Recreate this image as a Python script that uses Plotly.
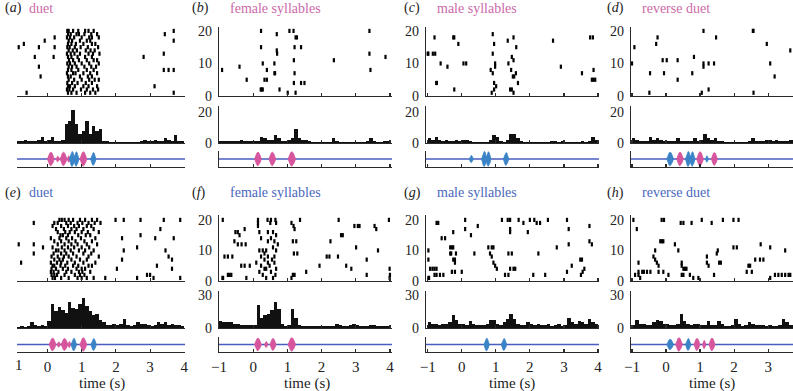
import plotly.graph_objects as go

W, H = 793, 391

# ---------------- data ----------------
bin_left = -1.0
bin_width = 0.1

# raster data: index 0 = trial 1 (bottom) ... index 19 = trial 20 (top)
raster_a = [
    [-0.61, 0.6, 0.7, 0.85, 1.1, 1.25, 1.4, 3.69],
    [0.57, 0.64, 0.75, 0.98, 1.15, 1.33, 1.48],
    [0.6, 0.66, 0.8, 1.05, 1.2, 1.45, 3.13],
    [0.58, 0.72, 0.88, 1.12, 1.3],
    [0.62, 0.78, 1.0, 1.22, 1.38, 1.5],
    [-0.2, 0.6, 0.68, 0.95, 1.18, 1.3],
    [0.57, 0.75, 0.82, 1.05, 1.25, 1.45],
    [0.6, 0.7, 0.9, 1.15, 1.35, 3.4, 3.54, 3.69],
    [-0.25, 0.62, 0.72, 0.85, 1.08, 1.28, 1.42],
    [0.58, 0.66, 0.8, 1.0, 1.22, 1.5],
    [0.63, 0.75, 0.92, 1.15, 1.35, 1.45],
    [-0.37, 0.18, 0.6, 0.7, 0.88, 1.1, 1.3, 2.81],
    [0.57, 0.68, 0.79, 0.95, 1.2, 1.33, 1.52, 3.4],
    [0.62, 0.74, 0.86, 1.12, 1.26, 1.38],
    [-0.84, -0.25, 0.21, 0.58, 0.65, 0.8, 0.97, 1.18, 1.48],
    [-0.69, 0.6, 0.7, 0.83, 1.05, 1.3, 1.4],
    [-0.08, 0.62, 0.72, 0.95, 1.15, 1.25, 3.69],
    [0.21, 0.57, 0.66, 0.78, 1.0, 1.22, 1.3, 1.5],
    [0.6, 0.68, 0.85, 0.92, 1.08, 1.28, 1.45, 3.43],
    [0.58, 0.62, 0.75, 0.9, 1.1, 1.2, 1.35, 3.69],
]
raster_b = [
    [1.01, 1.24], [0.22, 0.25, 0.28, 0.77], [], [1.19, 1.4, 1.5],
    [-0.19, 0.33, 0.4], [], [0.62, 0.64, 1.21], [-0.91, 0.4, 3.43],
    [-0.4], [0.28, 0.62], [1.19, 2.36], [3.87], [0.7, 3.4], [0.69],
    [0.23, 1.21, 1.4], [], [], [1.24, 1.28], [0.69], [0.23, 1.06, 1.18, 3.4],
]
raster_c = [
    [0.88, 1.52], [-0.22, 0.95, 1.42, 1.47], [1.01], [-0.75, -0.73, 0.95, 1.65],
    [3.82, 3.87, 3.92], [1.5, 1.54], [0.91, 1.59, 3.53], [0.85, 1.45, 3.87],
    [-0.42, 0.98, 2.91], [-0.62, 0.05, 0.13, 0.98, 1.37], [1.52], [1.47],
    [-1.0, -0.98, -0.85, -0.78, 0.91], [], [1.6], [-0.1, 0.95], [1.35, 2.68],
    [-0.8, -0.25, -0.22, 1.52, 3.77, 3.85], [0.91], [],
]
raster_d = [
    [-0.49, 1.05, 2.57], [1.25], [], [], [0.34], [3.19], [-0.47, -0.06, 0.77],
    [], [1.1], [-1.0, 1.1, 1.25, 1.41, 3.06], [-0.1, 0.02, 0.34], [0.82], [],
    [3.65], [-0.93], [-0.29, 2.96], [], [-0.25, 1.47], [], [1.1, 2.55, 2.57],
]
raster_e = [
    [0.15, 0.22, 0.4, 0.62, 0.88, 1.0, 1.15, 1.35, 1.69, 2.62, 3.1, 3.88],
    [0.12, 0.2, 0.28, 0.5, 0.8, 0.95, 1.08, 2.91, 3.0],
    [0.1, 0.18, 0.32, 0.55, 0.7, 0.92, 1.02, 1.25],
    [0.12, 0.25, 0.45, 0.6, 0.85, 1.0, 1.1, 2.03, 3.64],
    [0.15, 0.2, 0.38, 0.52, 0.75, 0.9, 1.2, 1.3, 3.2],
    [-0.77, 0.1, 0.28, 0.4, 0.58, 0.8, 1.05, 1.4],
    [0.2, 0.35, 0.45, 0.7, 0.95, 1.15, 2.18, 3.64],
    [0.12, 0.3, 0.48, 0.62, 0.85, 1.2, 1.5, 3.54],
    [-0.4, 0.18, 0.4, 0.55, 0.75, 1.05, 1.28],
    [0.25, 0.32, 0.5, 0.68, 0.92, 1.1, 1.35, 2.23, 3.45],
    [-0.13, 0.15, 0.42, 0.6, 0.78, 1.0, 1.22, 2.62],
    [-0.84, -0.4, 0.3, 0.5, 0.7, 0.88, 1.15, 1.45],
    [0.2, 0.4, 0.62, 0.82, 1.08, 1.3],
    [0.1, 0.35, 0.55, 0.72, 0.98, 1.4, 2.18, 3.15, 3.69],
    [0.38, 0.45, 0.6, 0.9, 1.12, 1.25, 2.72],
    [0.3, 0.52, 0.65, 0.8, 1.0, 1.18, 1.5],
    [0.25, 0.48, 0.7, 0.85, 1.05, 1.35, 3.3],
    [0.15, 0.4, 0.6, 0.78, 0.92, 1.15, 1.28],
    [-0.4, 0.2, 0.3, 0.55, 0.68, 0.88, 1.02, 1.2, 1.38, 1.55],
    [0.35, 0.42, 0.5, 0.62, 0.75, 0.95, 1.1, 1.3, 1.45, 1.99, 2.23, 2.72, 3.4, 3.88],
]
raster_f = [
    [-0.9, -0.88, -0.2, 0.38, 0.58, 1.12, 3.99],
    [-0.74, -0.69, -0.64, 0.28, 0.65, 1.16, 1.21, 3.32, 4.0],
    [0.18, 0.52, 1.55],
    [0.33, 0.38, 0.67, 2.87, 3.99],
    [-0.35, -0.25, -0.1, 0.23, 0.48, 1.94, 2.72],
    [0.09, 0.43, 0.62],
    [0.33, 0.55, 3.32],
    [-0.84, -0.74, -0.61, 0.23, 0.43, 0.62, 2.15, 2.23, 2.48],
    [0.33, 1.19, 1.29],
    [0.18, 0.28, 0.38, 0.67, 3.65],
    [0.58, 3.01],
    [-0.45, -0.34, -0.22, 0.72],
    [-0.55, 0.43, 0.62, 1.16, 1.26, 2.26],
    [0.23, 0.52],
    [-0.4, 0.67, 2.57, 2.62],
    [-0.52, -0.45, 0.18, 0.43, 0.58],
    [-0.25, 1.21, 3.6],
    [0.14, 1.18, 2.96, 3.06, 3.11, 3.55],
    [0.14, 0.5, 0.67, 1.12],
    [-0.89, 0.14, 0.42, 0.52, 0.65, 1.37, 2.5, 3.97],
]
raster_g = [
    [-0.98, -0.96],
    [-0.8, -0.74, -0.64, -0.54, 1.27, 1.37, 2.1, 2.45, 3.5],
    [-0.29, -0.2, 0.0, 3.09, 3.55],
    [-0.93, -0.86, -0.8, -0.74, 1.03, 1.42, 1.52, 1.57, 3.6],
    [0.98, 3.23],
    [-0.2, 0.93],
    [-0.98, -0.25, -0.2, 3.48, 3.53],
    [0.88],
    [-0.34, -0.31, -0.17, 0.37, 0.83, 1.37, 1.47, 2.25],
    [-0.98],
    [-0.34, -0.29, -0.25, 0.78, 0.88, 0.93, 2.79],
    [3.14, 3.82],
    [3.75],
    [-0.59, -0.49],
    [0.27],
    [-0.25, 1.42, 1.94],
    [0.1, 1.42, 3.14],
    [0.47, 3.75],
    [-0.74, -0.69, 1.81, 2.2, 2.3],
    [0.1, 1.18, 1.35, 1.42, 1.67, 2.0, 2.13, 2.53, 3.09],
]
raster_h = [
    [-0.76, 0.8, 0.95, 3.06],
    [-0.91, -0.81, 0.07, 0.46, 0.51, 0.7, 1.41, 3.2, 3.3, 3.4, 3.5, 3.6, 3.65],
    [-0.81, -0.7, -0.65, -0.56, -0.46, -0.22, -0.08, 2.37, 2.52],
    [0.51, 0.56, 0.6],
    [-0.22, 0.46, 1.25, 2.42, 2.47],
    [-0.81, -0.27, 0.46, 1.2, 1.56, 1.61],
    [-0.32, 2.62, 2.76, 2.86],
    [-0.37, 1.2],
    [1.49],
    [-0.32, 0.36, 1.52, 3.5],
    [1.98, 2.08, 3.06],
    [0.26, 2.78],
    [-0.17, -0.12, -0.08],
    [], [], [],
    [-0.86],
    [],
    [0.43, 0.51, 0.75, 1.34],
    [-0.96, -0.13, -0.06, 1.05, 1.67, 1.98, 2.13],
]

# PSTH values, 0.1 s bins from -1 s to 4 s
hist_a = [1, 1, 1, 2, 1, 1, 1, 2, 4, 1, 2, 4, 1, 1, 2, 12, 14, 21, 12, 6,
          8, 14, 6, 11, 8, 9, 1, 1, 0.5, 0.5, 0.5, 0.5, 0.5, 0.5, 0.5, 0.5, 0.5, 1, 2, 1,
          1, 2, 1, 1, 3, 2, 1, 5, 1, 1]
hist_b = [1, 1, 1, 1, 1, 1, 2, 1, 1, 1, 1, 1, 4, 3, 2, 2, 5, 3, 1, 1,
          2, 3, 9, 3, 2, 2, 1, 0.5, 0.5, 0.5, 0.5, 0.5, 0.5, 3, 1, 0.5, 0.5, 0.5, 0.5, 0.5,
          0.5, 0.5, 0.5, 1, 3, 1, 0.5, 0.5, 1, 1]
hist_c = [3, 2, 4, 2, 1, 2, 1, 1, 2, 1, 2, 2, 1, 0.5, 0.5, 0.5, 0.5, 0.5, 2, 5,
          4, 1, 0.5, 2, 6, 6, 3, 1, 0.5, 0.5, 0.5, 0.5, 0.5, 0.5, 0.5, 0.5, 1, 1, 0.5, 1,
          0.5, 0.5, 0.5, 0.5, 0.5, 1, 0.5, 1, 4, 2]
hist_d = [3, 2, 1, 1, 1, 4, 2, 3, 2, 1, 1, 1, 1, 3, 1, 1, 1, 1, 3, 1,
          2, 6, 3, 2, 3, 1, 1, 0.5, 0.5, 0.5, 0.5, 0.5, 0.5, 0.5, 1, 3, 1, 1, 1, 2,
          2, 1, 2, 1, 1, 1, 2, 2, 1, 1]
hist_e = [1, 1, 2, 1, 2, 5, 3, 2, 3, 2, 6, 22, 15, 19, 16, 14, 24, 18, 17, 22,
          27, 20, 15, 12, 13, 7, 5, 3, 3, 4, 3, 4, 8, 3, 2, 3, 5, 4, 4, 3,
          2, 3, 5, 4, 5, 3, 4, 3, 3, 2]
hist_f = [6, 5, 5, 5, 4, 4, 3, 3, 3, 3, 3, 21, 9, 12, 13, 16, 24, 17, 4, 2,
          3, 17, 9, 3, 2, 2, 2, 2, 2, 2, 2, 2, 2, 2, 4, 3, 2, 2, 3, 4,
          3, 2, 2, 2, 3, 3, 2, 2, 2, 2]
hist_g = [5, 4, 4, 3, 4, 4, 5, 12, 7, 4, 4, 3, 6, 4, 3, 3, 3, 4, 7, 7,
          4, 3, 5, 8, 13, 8, 4, 3, 3, 5, 4, 3, 4, 3, 3, 4, 2, 3, 4, 2,
          3, 9, 5, 4, 6, 5, 4, 8, 5, 4]
hist_h = [3, 7, 4, 4, 3, 3, 5, 7, 6, 4, 4, 3, 3, 4, 13, 6, 4, 3, 4, 4,
          3, 3, 6, 3, 3, 6, 4, 2, 2, 3, 8, 4, 2, 3, 5, 4, 3, 3, 3, 2,
          3, 2, 2, 3, 8, 5, 3, 3, 3, 2]

# song syllables: (centre time s, half-width s, amplitude, singer)
syl_a = [(0.1, 0.1, 0.85, "F"), (0.3, 0.05, 0.35, "F"), (0.47, 0.1, 0.85, "F"),
         (0.62, 0.04, 0.4, "F"), (0.72, 0.08, 0.95, "M"), (0.84, 0.08, 0.9, "M"),
         (1.05, 0.1, 0.9, "F"), (1.34, 0.08, 0.8, "M")]
syl_b = [(0.14, 0.1, 0.85, "F"), (0.56, 0.1, 0.85, "F"), (1.13, 0.11, 0.9, "F")]
syl_c = [(0.28, 0.06, 0.45, "M"), (0.66, 0.08, 0.95, "M"), (0.78, 0.08, 0.9, "M"),
         (1.3, 0.08, 0.8, "M")]
syl_d = [(0.12, 0.1, 0.85, "M"), (0.41, 0.1, 0.85, "F"), (0.65, 0.08, 0.95, "M"),
         (0.77, 0.08, 0.9, "M"), (1.0, 0.1, 0.9, "F"), (1.2, 0.04, 0.4, "M"),
         (1.42, 0.09, 0.8, "F")]
syl_e = [(0.15, 0.1, 0.85, "F"), (0.33, 0.05, 0.35, "F"), (0.5, 0.1, 0.8, "F"),
         (0.64, 0.04, 0.4, "F"), (0.77, 0.08, 0.85, "M"), (1.05, 0.1, 0.9, "F"),
         (1.35, 0.08, 0.8, "M")]
syl_f = [(0.14, 0.1, 0.85, "F"), (0.38, 0.05, 0.4, "F"), (0.58, 0.09, 0.8, "F"),
         (1.13, 0.11, 0.9, "F")]
syl_g = [(0.73, 0.08, 0.85, "M"), (1.24, 0.08, 0.8, "M")]
syl_h = [(0.12, 0.1, 0.7, "M"), (0.38, 0.1, 0.9, "F"), (0.65, 0.08, 0.8, "M"),
         (0.91, 0.09, 0.8, "F"), (1.12, 0.05, 0.55, "F"), (1.35, 0.09, 0.85, "F")]

panel_letters = ["a", "b", "c", "d", "e", "f", "g", "h"]
panel_names = ["duet", "female syllables", "male syllables", "reverse duet",
               "duet", "female syllables", "male syllables", "reverse duet"]
x_tick_vals = [-1, 0, 1, 2, 3, 4]
x_tick_text = ["\u22121", "0", "1", "2", "3", "4"]
raster_ticks = [0, 10, 20]
hist_ticks_top = [0, 20]
hist_ticks_bottom = [0, 30]

# ---------------- styling ----------------
FONT = "'Liberation Serif', 'Times New Roman', serif"
AX = "#2b2b2b"
PINK_TXT = "#cc6aa8"
BLUE_TXT = "#4a68bd"
WAVE_LINE = "#4a5cc0"
SYL_COL = {"F": "#d6559c", "M": "#3a83c6"}
FS = 14
FS_TITLE = 14
FS_AXT = 15

# column pixel domains and x ranges
cols = [
    (17, 185, [-0.89, 4.02]),
    (219, 392, [-1.0, 4.06]),
    (426, 599, [-1.05, 4.03]),
    (631, 793, [-1.03, 3.73]),
]
rows = [
    dict(raster=(27, 96, 21.2), hist=(106, 143, 23.9), wave=(151, 167), hticks=hist_ticks_top,
         title_y=8, name_col=PINK_TXT),
    dict(raster=(215, 281, 21.6), hist=(291, 328, 33.6), wave=(337, 352), hticks=hist_ticks_bottom,
         title_y=193, name_col=BLUE_TXT),
]

rasters = [raster_a, raster_b, raster_c, raster_d, raster_e, raster_f, raster_g, raster_h]
hists = [hist_a, hist_b, hist_c, hist_d, hist_e, hist_f, hist_g, hist_h]
syls = [syl_a, syl_b, syl_c, syl_d, syl_e, syl_f, syl_g, syl_h]

fig = go.Figure()
layout = {}
annotations = []


def xd(px):
    return px / W


def yd(px):
    return 1 - px / H


axis_id = [0]


def new_axes(col, ytop, ybot, yrange, xlabels, ytickvals, yline):
    axis_id[0] += 1
    k = axis_id[0]
    x0, x1, xr = cols[col]
    sfx = "" if k == 1 else str(k)
    layout["xaxis" + sfx] = dict(
        domain=[xd(x0), xd(x1)], range=xr, anchor="y" + sfx, automargin=False,
        showline=True, linecolor=AX, linewidth=1.3, mirror=False,
        ticks="inside", ticklen=3, tickwidth=1.2, tickcolor=AX,
        tickmode="array", tickvals=x_tick_vals,
        ticktext=x_tick_text,
        showticklabels=xlabels, ticklabelstandoff=1,
        showgrid=False, zeroline=False, fixedrange=True,
        tickfont=dict(family=FONT, size=FS_AXT, color="#222"),
    )
    layout["yaxis" + sfx] = dict(
        domain=[yd(ybot), yd(ytop)], range=yrange, anchor="x" + sfx, automargin=False,
        showline=yline, linecolor=AX, linewidth=1.3,
        ticks="", tickmode="array", tickvals=ytickvals if ytickvals else [],
        showticklabels=bool(ytickvals) and yline, ticklabelstandoff=3,
        showgrid=False, zeroline=False, fixedrange=True,
        tickfont=dict(family=FONT, size=FS, color="#222"),
    )
    return ("x" + sfx, "y" + sfx)


for p in range(8):
    col = p % 4
    r = rows[p // 4]
    has_y = col > 0
    bottom = p >= 4

    # raster
    t0, b0, top = r["raster"]
    xa, ya = new_axes(col, t0, b0, [0, top], False, raster_ticks, has_y)
    xs, ys = [], []
    for i, trial in enumerate(rasters[p]):
        for t in trial:
            xs.append(t)
            ys.append(i + 1)
    fig.add_trace(go.Scatter(
        x=xs, y=ys, xaxis=xa, yaxis=ya, mode="markers", cliponaxis=True,
        marker=dict(symbol="line-ns", size=3, line=dict(width=2.2, color="black")),
        hoverinfo="skip", showlegend=False))

    # histogram
    t1, b1, htop = r["hist"]
    xa, ya = new_axes(col, t1, b1, [0, htop], False, r["hticks"], has_y)
    centers = [bin_left + bin_width * (i + 0.5) for i in range(len(hists[p]))]
    fig.add_trace(go.Bar(
        x=centers, y=hists[p], width=bin_width, xaxis=xa, yaxis=ya,
        marker=dict(color="#111", line=dict(width=0)),
        hoverinfo="skip", showlegend=False))

    # song waveform strip
    t2, b2 = r["wave"]
    xa, ya = new_axes(col, t2, b2, [-1, 1], bottom, None, has_y)
    xr = cols[col][2]
    fig.add_trace(go.Scatter(
        x=[xr[0], xr[1]], y=[0, 0], xaxis=xa, yaxis=ya, mode="lines",
        line=dict(color=WAVE_LINE, width=1.6), hoverinfo="skip", showlegend=False))
    for (c, w, a, who) in syls[p]:
        px_ = [c - w, c - w * 0.6, c - w * 0.3, c, c + w * 0.3, c + w * 0.6, c + w,
               c + w * 0.6, c + w * 0.3, c, c - w * 0.3, c - w * 0.6, c - w]
        py_ = [0, a * 0.55, a * 0.9, a, a * 0.9, a * 0.55, 0,
               -a * 0.55, -a * 0.9, -a, -a * 0.9, -a * 0.55, 0]
        fig.add_trace(go.Scatter(
            x=px_, y=py_, xaxis=xa, yaxis=ya, mode="lines", fill="toself",
            fillcolor=SYL_COL[who], line=dict(color=SYL_COL[who], width=0.8),
            hoverinfo="skip", showlegend=False))

    # panel title
    title_x = [3, 190, 402, 605][col]
    name_x = [27, 228, 435, 640][col]
    annotations.append(dict(
        x=xd(title_x), y=yd(r["title_y"]), xref="paper", yref="paper",
        xanchor="left", yanchor="middle", showarrow=False,
        text="(<i>%s</i>)" % panel_letters[p],
        font=dict(family=FONT, size=FS_TITLE, color="#222")))
    annotations.append(dict(
        x=xd(name_x), y=yd(r["title_y"]), xref="paper", yref="paper",
        xanchor="left", yanchor="middle", showarrow=False,
        text=panel_names[p], font=dict(family=FONT, size=FS_TITLE, color=r["name_col"])))

# column 1 left label (minus sign cropped in original)
annotations.append(dict(
    x=xd(19), y=yd(365), xref="paper", yref="paper", xanchor="center", yanchor="middle",
    showarrow=False, text="1", font=dict(family=FONT, size=FS_AXT, color="#222")))

for cx in [102, 307, 512, 712]:
    annotations.append(dict(
        x=xd(cx), y=yd(383), xref="paper", yref="paper", xanchor="center", yanchor="middle",
        showarrow=False, text="time (s)", font=dict(family=FONT, size=FS_AXT, color="#222")))

layout.update(dict(
    template="none",
    width=W, height=H, margin=dict(l=0, r=0, t=0, b=0, pad=0),
    paper_bgcolor="white", plot_bgcolor="white",
    bargap=0, showlegend=False, annotations=annotations,
))
fig.update_layout(**layout)
fig.write_html(
    "out.html",
    config={"displayModeBar": False, "staticPlot": True},
    post_script="document.body.style.margin='0';document.body.style.overflow='hidden';",
)
